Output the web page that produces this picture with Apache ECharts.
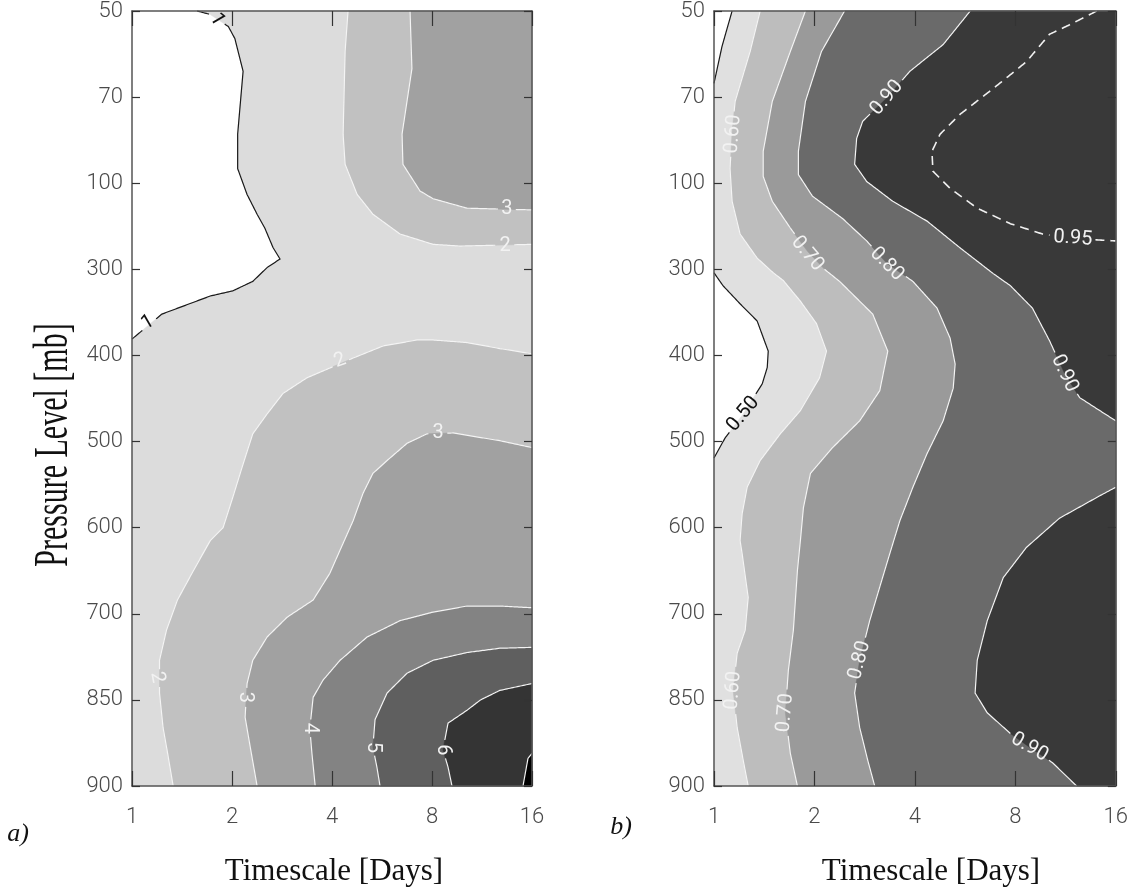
<!DOCTYPE html>
<html><head><meta charset="utf-8">
<script src="https://cdn.jsdelivr.net/npm/echarts@6/dist/echarts.min.js"></script>
<style>html,body{margin:0;padding:0;background:#fff}#c{width:1131px;height:890px}</style>
</head><body><div id="c"></div>
<script>
// ---------- axes ----------
const timescaleTicks = [1, 2, 4, 8, 16];                    // days (log2 axis)
const pressureLevels = ['50','70','100','300','400','500','600','700','850','900']; // mb, evenly spaced

// Contour lines: [timescale (days), position on pressure-level axis (0 = 50 mb ... 9 = 900 mb)]
// ---------- panel a ----------
const a_c1 = [[1.57,0],[1.72,0.04],[1.95,0.18],[2.04,0.32],[2.16,0.70],[2.08,1.43],[2.08,1.83],[2.22,2.13],[2.38,2.36],[2.51,2.52],[2.66,2.75],[2.79,2.88],[2.55,2.98],[2.31,3.14],[2.01,3.25],[1.72,3.31],[1.42,3.43],[1.23,3.52],[1.00,3.81]];
const a_c2_upper = [[4.47,0],[4.38,0.47],[4.32,1.43],[4.38,1.78],[4.76,2.13],[5.31,2.36],[6.41,2.59],[8.06,2.71],[9.71,2.73],[16,2.71]];
const a_c3_upper = [[6.87,0],[6.96,0.67],[6.50,1.43],[6.54,1.78],[7.36,2.09],[8.06,2.18],[10.2,2.29],[16,2.31]];
const a_c2_lower = [[16,3.98],[12.8,3.92],[10.2,3.85],[8.06,3.82],[7.21,3.82],[5.70,3.89],[4.63,4.03],[3.36,4.26],[2.85,4.44],[2.55,4.68],[2.31,4.91],[2.16,5.26],[2.01,5.65],[1.88,6.00],[1.72,6.15],[1.53,6.50],[1.37,6.84],[1.27,7.19],[1.21,7.54],[1.21,7.92],[1.24,8.32],[1.28,8.62],[1.33,9]];
const a_c3_lower = [[16,5.07],[12.8,4.99],[9.26,4.90],[7.73,4.91],[6.73,5.02],[5.86,5.22],[5.31,5.37],[4.96,5.60],[4.63,5.92],[4.23,6.26],[3.94,6.53],[3.51,6.84],[2.93,7.04],[2.55,7.27],[2.31,7.54],[2.22,7.81],[2.19,8.20],[2.27,8.55],[2.38,9]];
const a_c4 = [[16,6.93],[12.8,6.91],[10.2,6.91],[8.06,6.98],[6.41,7.08],[5.10,7.27],[4.23,7.54],[3.76,7.77],[3.51,7.97],[3.43,8.33],[3.48,8.62],[3.56,9]];
const a_c5 = [[16,7.39],[12.8,7.40],[10.2,7.45],[8.06,7.54],[6.73,7.69],[5.86,7.92],[5.39,8.23],[5.31,8.55],[5.46,8.78],[5.58,9]];
const a_c6 = [[16,7.81],[12.8,7.89],[11.2,8.00],[10.2,8.12],[8.94,8.27],[8.63,8.58],[8.94,8.78],[9.19,9]];
const a_c7 = [[16,8.62],[15.56,8.68],[15.03,9]];
// contour labels: [text, timescale, level position, angle (deg)]
const a_labels = [['1',1.80,0.10,-60],['1',1.117,3.62,30],['2',4.23,4.06,20],['2',1.19,7.74,-80],['3',8.34,4.90,0],['3',2.19,7.97,-90],['4',3.43,8.33,-90],['5',5.31,8.55,-90],['6',8.63,8.58,-90],['3',13.45,2.30,0],['2',13.27,2.73,0]];

// ---------- panel b ----------
const b_c50_top = [[1.133,0],[1.057,0.41],[1,0.84]];
const b_c50_mid = [[1,3.04],[1.064,3.19],[1.197,3.40],[1.347,3.60],[1.454,3.95],[1.444,4.14],[1.395,4.33],[1.223,4.68],[1.079,4.96],[1,5.19]];
const b_c60 = [[1.375,0],[1.283,0.47],[1.157,1.05],[1.133,1.40],[1.117,1.83],[1.133,2.21],[1.197,2.59],[1.347,2.87],[1.505,3.04],[1.613,3.13],[1.815,3.37],[2.028,3.63],[2.173,3.95],[2.071,4.26],[1.815,4.64],[1.580,4.91],[1.375,5.22],[1.257,5.53],[1.214,5.84],[1.197,6.15],[1.214,6.30],[1.266,6.81],[1.240,7.19],[1.173,7.46],[1.141,7.89],[1.173,8.32],[1.223,8.70],[1.266,9]];
const b_c70 = [[1.879,0],[1.693,0.47],[1.495,1.05],[1.404,1.63],[1.404,1.92],[1.495,2.21],[1.693,2.52],[1.905,2.79],[2.144,3.00],[2.379,3.14],[2.990,3.52],[3.317,3.95],[3.138,4.41],[2.732,4.76],[2.266,5.07],[1.945,5.37],[1.853,5.77],[1.815,6.15],[1.778,6.50],[1.729,7.19],[1.670,7.66],[1.636,8.15],[1.693,8.62],[1.778,9]];
const b_c80 = [[2.462,0],[2.099,0.47],[1.879,1.05],[1.790,1.63],[1.790,1.90],[1.972,2.15],[2.428,2.41],[2.868,2.67],[3.294,2.93],[3.945,3.14],[4.66,3.45],[5.10,3.80],[5.28,4.10],[5.21,4.38],[4.86,4.76],[4.35,5.14],[3.945,5.53],[3.605,5.92],[3.364,6.30],[3.138,6.69],[2.928,7.08],[2.732,7.54],[2.639,7.92],[2.732,8.32],[2.888,8.70],[3.031,9]];
const b_c90_upper = [[5.86,0],[4.86,0.39],[3.864,0.70],[3.294,1.01],[2.790,1.28],[2.676,1.48],[2.639,1.78],[2.868,1.98],[3.434,2.21],[4.35,2.44],[5.46,2.75],[6.87,3.05],[7.73,3.19],[9.00,3.45],[10.13,3.83],[11.24,4.21],[12.47,4.49],[14.32,4.64],[16,4.76]];
const b_c90_lower = [[16,5.53],[14.32,5.63],[10.85,5.89],[8.63,6.23],[7.36,6.58],[6.59,7.08],[6.15,7.54],[6.06,7.92],[6.59,8.15],[7.73,8.39],[8.82,8.55],[10.34,8.73],[12.21,9]];
const b_c95 = [[14.03,0],[11.63,0.16],[10.13,0.27],[8.63,0.59],[6.87,0.90],[5.46,1.20],[4.76,1.43],[4.50,1.63],[4.53,1.86],[5.10,2.06],[6.15,2.29],[7.73,2.47],[9.65,2.59],[11.6,2.64],[16,2.67]];
const b_labels = [['0.60',1.141,1.43,85],['0.70',1.905,2.82,-50],['0.80',3.294,2.94,-45],['0.90',3.294,1.01,50],['0.95',11.9,2.64,-4],['0.90',11.24,4.21,-65],['0.50',1.223,4.68,50],['0.60',1.141,7.89,85],['0.70',1.636,8.15,85],['0.80',2.732,7.54,75],['0.90',8.82,8.55,-30]];

// ---------- styles ----------
const A_FILL = {1:'#dcdcdc',2:'#c1c1c1',3:'#a1a1a1',4:'#838383',5:'#5f5f5f',6:'#343434',7:'#000000'};
const B_FILL = {0.5:'#e0e0e0',0.6:'#bdbdbd',0.7:'#9a9a9a',0.8:'#6a6a6a',0.9:'#393939'};
const LINE_W = 1.2, LABEL_FONT = 20, TICK_FONT = 22;
const FONT_SANS = 'Roboto, "Liberation Sans", sans-serif';
const FONT_SERIF = '"Liberation Serif", "DejaVu Serif", serif';

// filled regions (value >= level), closed with the plot corners
const aRegions = [
  {c:A_FILL[1], pts:a_c1.concat([[1,9],[16,9],[16,0]])},
  {c:A_FILL[2], pts:a_c2_upper.concat([[16,0]])},
  {c:A_FILL[2], pts:a_c2_lower.concat([[16,9]])},
  {c:A_FILL[3], pts:a_c3_upper.concat([[16,0]])},
  {c:A_FILL[3], pts:a_c3_lower.concat([[16,9]])},
  {c:A_FILL[4], pts:a_c4.concat([[16,9]])},
  {c:A_FILL[5], pts:a_c5.concat([[16,9]])},
  {c:A_FILL[6], pts:a_c6.concat([[16,9]])},
  {c:A_FILL[7], pts:a_c7.concat([[16,9]])}
];
const bRegions = [
  {c:B_FILL[0.5], pts:b_c50_top.concat(b_c50_mid,[[1,9],[16,9],[16,0]])},
  {c:B_FILL[0.6], pts:b_c60.concat([[16,9],[16,0]])},
  {c:B_FILL[0.7], pts:b_c70.concat([[16,9],[16,0]])},
  {c:B_FILL[0.8], pts:b_c80.concat([[16,9],[16,0]])},
  {c:B_FILL[0.9], pts:b_c90_upper.concat([[16,0]])},
  {c:B_FILL[0.9], pts:b_c90_lower.concat([[16,9]])}
];
const aLines = [
  {pts:a_c1,c:'#1a1a1a'},{pts:a_c2_upper,c:'#f4f4f4'},{pts:a_c3_upper,c:'#f4f4f4'},{pts:a_c2_lower,c:'#f4f4f4'},
  {pts:a_c3_lower,c:'#f4f4f4'},{pts:a_c4,c:'#f4f4f4'},{pts:a_c5,c:'#f4f4f4'},{pts:a_c6,c:'#f4f4f4'},{pts:a_c7,c:'#f4f4f4'}
];
const bLines = [
  {pts:b_c50_top,c:'#1a1a1a'},{pts:b_c50_mid,c:'#1a1a1a'},{pts:b_c60,c:'#f4f4f4'},{pts:b_c70,c:'#f4f4f4'},
  {pts:b_c80,c:'#f4f4f4'},{pts:b_c90_upper,c:'#f4f4f4'},{pts:b_c90_lower,c:'#f4f4f4'},{pts:b_c95,c:'#f0f0f0',dash:[9,6],w:1.6}
];
const aLabelColor = t => t === '1' ? '#111' : '#f2f2f2';
const bLabelColor = t => t === '0.50' ? '#111' : '#f2f2f2';

function textWidth(t){ let w=0; for(const ch of t) w += (ch==='.'?0.27:0.56)*LABEL_FONT; return w; }

function gapRuns(pix, holes){
  const runs=[]; let cur=[];
  const inside = p => holes.some(h => (p[0]-h.x)*(p[0]-h.x)+(p[1]-h.y)*(p[1]-h.y) < h.r*h.r);
  for(let i=0;i<pix.length-1;i++){
    const a=pix[i], b=pix[i+1];
    const d=Math.hypot(b[0]-a[0],b[1]-a[1]); const n=Math.max(1,Math.ceil(d/1.5));
    for(let k=(i===0?0:1);k<=n;k++){
      const t=k/n; const p=[a[0]+(b[0]-a[0])*t, a[1]+(b[1]-a[1])*t];
      if(inside(p)){ if(cur.length>1) runs.push(cur); cur=[]; }
      else cur.push(p);
    }
  }
  if(cur.length>1) runs.push(cur);
  return runs;
}

function regionSeries(regions, ax){
  return {type:'custom', xAxisIndex:ax, yAxisIndex:ax, z:1, silent:true, animation:false,
    data: regions.map(r => r.pts[0]),
    renderItem:(params, api) => {
      const r = regions[params.dataIndex];
      return {type:'polygon', shape:{points:r.pts.map(p => api.coord(p))}, style:{fill:r.c, stroke:r.c, lineWidth:0.5}};
    }};
}
function lineSeries(lines, labels, ax){
  return {type:'custom', xAxisIndex:ax, yAxisIndex:ax, z:2, silent:true, animation:false,
    data: lines.map(l => l.pts[0]),
    renderItem:(params, api) => {
      const l = lines[params.dataIndex];
      const holes = labels.map(lb => { const p = api.coord([lb[1], lb[2]]); return {x:p[0], y:p[1], r:textWidth(lb[0])/2+3}; });
      const runs = gapRuns(l.pts.map(p => api.coord(p)), holes);
      return {type:'group', children: runs.map(run => ({type:'polyline', shape:{points:run},
        style:{stroke:l.c, lineWidth:l.w||LINE_W, fill:null, lineDash:l.dash||null}}))};
    }};
}
function labelSeries(labels, colorFn, ax){
  return {type:'custom', xAxisIndex:ax, yAxisIndex:ax, z:3, silent:true, animation:false,
    data: labels.map(l => [l[1], l[2]]),
    renderItem:(params, api) => {
      const l = labels[params.dataIndex];
      const p = api.coord([l[1], l[2]]);
      return {type:'text', x:p[0], y:p[1], rotation:l[3]*Math.PI/180,
        style:{text:l[0], fill:colorFn(l[0]), fontSize:LABEL_FONT, fontFamily:FONT_SANS, fontWeight:'normal', align:'center', verticalAlign:'middle'}};
    }};
}

function xAx(grid, pos, showLabels){
  return {type:'log', logBase:2, min:timescaleTicks[0], max:timescaleTicks[timescaleTicks.length-1], gridIndex:grid, position:pos, z:10,
    axisLine:{show:true, onZero:false, lineStyle:{color:'#555', width:1.5}},
    axisTick:{show:true, inside:true, length:15, lineStyle:{color:'#333', width:1.2}},
    axisLabel:{show:showLabels, margin:20, color:'#4a4a4a', fontFamily:FONT_SANS, fontWeight:300, fontSize:TICK_FONT,
      formatter:v => String(Math.round(v))},
    splitLine:{show:false}, minorTick:{show:false}};
}
function yAx(grid, pos, showLabels){
  return {type:'value', min:0, max:pressureLevels.length-1, interval:1, inverse:true, gridIndex:grid, position:pos, z:10,
    axisLine:{show:true, onZero:false, lineStyle:{color:'#555', width:1.5}},
    axisTick:{show:true, inside:true, length:8, lineStyle:{color:'#333', width:1.2}},
    axisLabel:{show:showLabels, margin:9, color:'#4a4a4a', fontFamily:FONT_SANS, fontWeight:300, fontSize:TICK_FONT,
      formatter:v => pressureLevels[Math.round(v)]},
    splitLine:{show:false}};
}

const chart = echarts.init(document.getElementById('c'), null, {renderer:'canvas'});
chart.setOption({
  backgroundColor:'#ffffff',
  animation:false,
  grid:[
    {left:132, top:10, width:400, height:776, backgroundColor:'#ffffff', show:true, borderWidth:0},
    {left:714, top:10, width:402, height:776, backgroundColor:'#ffffff', show:true, borderWidth:0}
  ],
  xAxis:[xAx(0,'bottom',true), xAx(0,'top',false), xAx(1,'bottom',true), xAx(1,'top',false)],
  yAxis:[yAx(0,'left',true), yAx(0,'right',false), yAx(1,'left',true), yAx(1,'right',false)],
  series:[
    regionSeries(aRegions, 0), lineSeries(aLines, a_labels, 0), labelSeries(a_labels, aLabelColor, 0),
    regionSeries(bRegions, 2), lineSeries(bLines, b_labels, 2), labelSeries(b_labels, bLabelColor, 2)
  ],
  graphic:[
    {type:'text', x:54, y:445, rotation:Math.PI/2, scaleY:1.6, style:{text:'Pressure Level [mb]', fill:'#111', fontSize:30, fontFamily:FONT_SERIF, align:'center', verticalAlign:'middle'}},
    {type:'text', x:334, y:872, style:{text:'Timescale [Days]', fill:'#111', fontSize:31, fontFamily:FONT_SERIF, align:'center', verticalAlign:'middle'}},
    {type:'text', x:931, y:872, style:{text:'Timescale [Days]', fill:'#111', fontSize:31, fontFamily:FONT_SERIF, align:'center', verticalAlign:'middle'}},
    {type:'text', x:18, y:834, style:{text:'a)', fill:'#111', fontSize:26, fontStyle:'italic', fontFamily:FONT_SERIF, align:'center', verticalAlign:'middle'}},
    {type:'text', x:621, y:827, style:{text:'b)', fill:'#111', fontSize:26, fontStyle:'italic', fontFamily:FONT_SERIF, align:'center', verticalAlign:'middle'}}
  ]
});
</script></body></html>
